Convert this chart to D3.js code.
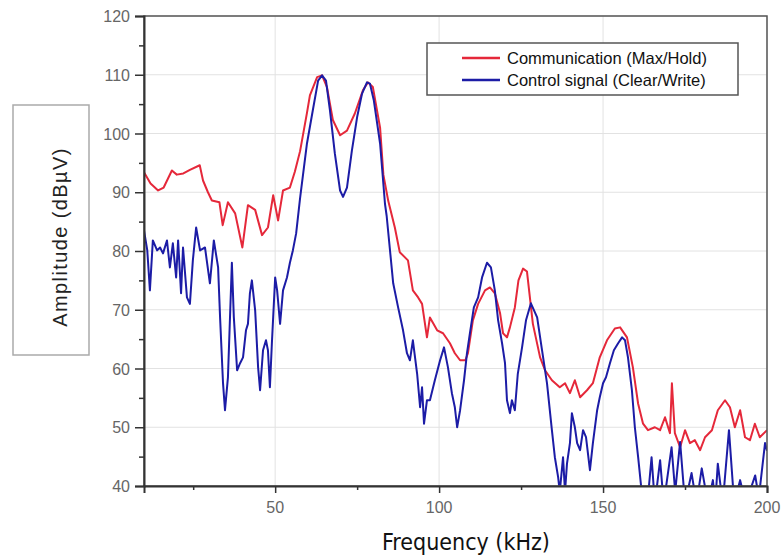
<!DOCTYPE html>
<html>
<head>
<meta charset="utf-8">
<script src="https://cdn.jsdelivr.net/npm/d3@7"></script>
<style>
  html, body { margin: 0; padding: 0; background: #fff; overflow: hidden; }
  svg { display: block; }
  text { font-family: "Liberation Sans", Arial, sans-serif; }
</style>
</head>
<body>
<svg id="chart"></svg>
<script>
// Spectrum data: [frequency kHz, amplitude dBuV]
var commTrace = [
  [10,93.4],[12,91.5],[14.3,90.3],[16,90.8],[18.5,93.7],[20,93],[22,93.2],[24,93.8],[27,94.6],[28,92],
  [29.5,90],[30.7,88.6],[33,88.3],[34,84.4],[35.6,88.3],[37.8,86.4],[40,80.6],[41.7,87.8],[43.9,87],[46,82.7],
  [47.8,84],[49.4,89.5],[50.9,85.2],[52.4,90.3],[54.5,90.8],[56,93.5],[57.6,97],[59.7,103.5],[60.6,106.5],[62.8,109.6],
  [64.3,109.9],[65.8,107.9],[67.6,102.3],[69.8,99.7],[71.9,100.5],[74.3,103.4],[76.8,107.4],[78.3,108.7],[79.8,107.9],[82,101],
  [83,93],[84.5,88.5],[86.5,84],[88,79.8],[90.5,78.4],[92,73.3],[93.6,72.1],[94.8,71],[96.3,65.3],[97.2,68.7],
  [99.4,66.5],[101.2,66],[103.3,64.3],[104.8,62.6],[106.4,61.4],[108,61.4],[108.8,62.6],[110.3,68.2],[111.9,71],[114,73.3],
  [115.5,73.8],[117,72.8],[118.6,69.4],[119.5,66],[120.7,65.3],[121.6,67],[123.1,70.4],[124.2,75],[125.6,77],[126.8,76.5],
  [128.6,67.6],[130.8,61.9],[132.3,59.7],[134.4,58],[136.8,56.8],[138.4,57.5],[139.9,55.8],[141.4,58],[143,55.1],[145.1,56.3],
  [146.9,57.5],[149,61.9],[151.2,64.8],[153.6,66.8],[155.2,67],[157.3,65.3],[159.1,60.2],[160.7,54],[162.2,50.6],[163.7,49.5],
  [165.8,50],[167.4,49.5],[168.9,51.7],[170.4,49],[171,57.5],[171.9,49],[173.5,46.6],[175,49.5],[176.5,47.3],[178,47.8],
  [179.6,46.1],[181.1,48.3],[183.2,49.5],[185,52.9],[187.2,54.6],[188.7,53.4],[190.2,50],[191.8,52.9],[193.3,48.3],[194.8,47.8],
  [196.3,50.6],[197.8,48.3],[200,49.5]
];
var ctrlTrace = [
  [10,83.5],[11,80.1],[11.8,73.3],[12.7,81.8],[14,80.1],[14.9,80.6],[15.8,79.6],[17,81.8],[17.9,77.2],[18.8,81.3],
  [19.8,75.5],[20.4,81.8],[21.3,72.8],[21.9,80.6],[23.1,72.1],[24,71],[24.9,78.4],[25.9,84],[27.1,80.1],[28.6,80.6],
  [30.1,74.5],[31.3,81.8],[32.6,77.2],[33.2,68.7],[34.1,57.5],[34.7,52.9],[35.6,58.5],[36.8,78],[37.4,68.7],[38.4,59.7],
  [39.3,60.9],[40.2,61.9],[41.1,66.5],[41.7,67.6],[42.3,72.8],[42.9,75],[43.9,69.9],[44.8,60.2],[45.4,56.3],[46.3,63.1],
  [47.2,64.8],[47.8,63.1],[48.4,56.8],[49,64.3],[50,75.5],[50.6,73.3],[51.5,67.6],[52.4,73.3],[53.6,75.5],[54.5,78],
  [55.4,80.1],[56.4,83],[57.6,89],[59.7,98.3],[61.5,104],[63.1,109],[64.3,109.9],[65.5,109],[66.7,104],[68.2,96.6],
  [69.8,90.3],[70.7,89.2],[71.9,90.8],[73.4,97.1],[75,102.8],[76.5,106.8],[78,108.7],[78.9,108.5],[80.1,105.6],[82,98.3],
  [83.5,88],[84,86],[86,74.5],[87.5,70.4],[89,66.5],[90.2,62.6],[91.1,61.4],[92,64.8],[93.3,59.1],[94.2,53.4],
  [94.8,56.8],[95.4,50.6],[96.3,54.6],[97.2,54.6],[98.7,58],[100.3,61.4],[101.5,63.6],[102.7,60.2],[103.9,55.8],[104.8,53.4],
  [105.5,50],[106.4,52.9],[107.6,58],[108.5,62.6],[109.4,66],[110.6,70.4],[111.9,72.1],[113.1,75.5],[114.6,78],[115.8,77.2],
  [117,73.3],[118,68.2],[119.2,64.3],[120.1,60.9],[120.7,54.6],[121.6,52.4],[122.2,54.6],[123.1,52.9],[124,59.1],[125.3,63.6],
  [126.5,68.2],[128,71.1],[129.9,68.7],[131.4,63.1],[132.9,57.5],[134.4,49.5],[135.3,44.9],[136.3,41.5],[136.8,39],[137.8,44.9],
  [138.4,39],[139,43.8],[139.9,47.3],[140.5,52.4],[141.4,50],[142.1,47.3],[143,46.1],[143.9,49.5],[144.8,48.3],[146,42.7],
  [146.9,47.3],[148.2,52.9],[149,55.1],[150,57.5],[150.9,58.5],[152.1,60.9],[153.3,63.1],[154.6,64.3],[155.8,65.3],[156.7,64.8],
  [157.6,61.9],[158.8,56.3],[159.7,50],[160.7,44.9],[161.6,40],[162.5,37],[164,40],[164.8,44.9],[165.8,37],[167.4,44.4],
  [168.5,37],[170.9,46.6],[172,39],[173.5,47.5],[175,37],[177,42.2],[178.5,37],[180.1,43],[182,37],[183.5,41],
  [184.2,37],[185,43.8],[186.5,37],[188.4,49.5],[190,37],[191.8,41],[193.5,37],[196.4,41.8],[197.5,38],[199.4,47.3],[200,46]
];
var xTicks = [50, 100, 150, 200];
var xMinorTicks = [25, 75, 125, 175];
var yTicks = [40, 50, 60, 70, 80, 90, 100, 110, 120];
var yMinorTicks = [45, 55, 65, 75, 85, 95, 105, 115];
var seriesNames = ["Communication (Max/Hold)", "Control signal (Clear/Write)"];
var seriesColors = ["#e5283a", "#1c1ca6"];

var width = 783, height = 559;
var margin = {top: 16, right: 16, bottom: 73, left: 144},
    innerWidth = width - margin.left - margin.right,
    innerHeight = height - margin.top - margin.bottom;

var svg = d3.select("#chart").attr("width", width).attr("height", height);

// scales in page coordinates
var xScale = d3.scaleLinear().domain([10, 200]).range([margin.left, margin.left + innerWidth]);
var yScale = d3.scaleLinear().domain([40, 120]).range([margin.top + innerHeight, margin.top]);

// Gridlines
svg.append("g").attr("class", "grid")
  .selectAll("line.gx").data(xTicks).join("line")
  .attr("x1", d => xScale(d)).attr("x2", d => xScale(d))
  .attr("y1", margin.top).attr("y2", margin.top + innerHeight)
  .attr("stroke", "#e2e2e2");
svg.select(".grid")
  .selectAll("line.gy").data(yTicks).join("line")
  .attr("x1", margin.left).attr("x2", margin.left + innerWidth)
  .attr("y1", d => yScale(d)).attr("y2", d => yScale(d))
  .attr("stroke", "#e2e2e2");

// Traces, clipped to the plot area
svg.append("defs").append("clipPath").attr("id", "plot-clip")
  .append("rect")
  .attr("x", margin.left).attr("y", margin.top)
  .attr("width", innerWidth).attr("height", innerHeight);

var line = d3.line()
  .x(d => xScale(d[0]))
  .y(d => yScale(d[1]));

var traces = svg.append("g").attr("clip-path", "url(#plot-clip)");
traces.append("path").datum(commTrace)
  .attr("fill", "none").attr("stroke", seriesColors[0])
  .attr("stroke-width", 2).attr("stroke-linejoin", "round")
  .attr("d", line);
traces.append("path").datum(ctrlTrace)
  .attr("fill", "none").attr("stroke", seriesColors[1])
  .attr("stroke-width", 2).attr("stroke-linejoin", "round")
  .attr("d", line);

// Frame
svg.append("rect")
  .attr("x", margin.left).attr("y", margin.top)
  .attr("width", innerWidth).attr("height", innerHeight)
  .attr("fill", "none").attr("stroke", "#555").attr("stroke-width", 1.5);

// Axis lines and ticks (labels drawn below as plain text)
var xAxis = svg.append("g").attr("class", "x-axis")
  .attr("transform", `translate(0, ${margin.top + innerHeight})`)
  .call(d3.axisBottom(xScale).tickValues(xTicks).tickSize(7).tickFormat(""));
xAxis.append("g").call(d3.axisBottom(xScale).tickValues(xMinorTicks).tickSize(4).tickFormat(""))
  .call(g => g.select(".domain").remove());

var yAxis = svg.append("g").attr("class", "y-axis")
  .attr("transform", `translate(${margin.left}, 0)`)
  .call(d3.axisLeft(yScale).tickValues(yTicks).tickSize(9).tickFormat(""));
yAxis.append("g").call(d3.axisLeft(yScale).tickValues(yMinorTicks).tickSize(5).tickFormat(""))
  .call(g => g.select(".domain").remove());

svg.selectAll(".x-axis text, .y-axis text").remove();
svg.selectAll(".x-axis .domain, .y-axis .domain")
  .attr("stroke", "#333").attr("stroke-width", 2);
svg.selectAll(".x-axis line, .y-axis line")
  .attr("stroke", "#333").attr("stroke-width", 1.5);

// Tick labels
svg.append("g").selectAll("text").data(xTicks).join("text")
  .attr("x", d => xScale(d))
  .attr("y", margin.top + innerHeight + 27)
  .attr("text-anchor", "middle")
  .attr("fill", "#666")
  .style("font-size", "16px")
  .text(d => d);
svg.append("g").selectAll("text").data(yTicks).join("text")
  .attr("x", margin.left - 14)
  .attr("y", d => yScale(d) + 6)
  .attr("text-anchor", "end")
  .attr("fill", "#666")
  .style("font-size", "16px")
  .text(d => d);

// Axis labels
svg.append("text")
  .attr("x", 466).attr("y", 550)
  .attr("text-anchor", "middle")
  .attr("fill", "#111")
  .style("font-family", "'Liberation Sans Narrow', 'DejaVu Sans Condensed', Arial, sans-serif")
  .style("font-size", "23px")
  .text("Frequency (kHz)");

svg.append("rect")
  .attr("x", 13).attr("y", 105).attr("width", 76).attr("height", 250)
  .attr("fill", "#fff").attr("stroke", "#aaa").attr("stroke-width", 1.5);
svg.append("text")
  .attr("transform", "translate(67,237) rotate(-90)")
  .attr("text-anchor", "middle")
  .attr("fill", "#222")
  .style("font-size", "20px")
  .style("letter-spacing", "1.4px")
  .text("Amplitude (dBµV)");

// Legend
var legend = svg.append("g").attr("transform", "translate(427,43)");
legend.append("rect")
  .attr("width", 311).attr("height", 52)
  .attr("fill", "#fff").attr("stroke", "#555").attr("stroke-width", 1.5);
seriesNames.forEach(function(name, i) {
  var row = legend.append("g").attr("transform", `translate(0, ${15 + i * 22})`);
  row.append("line")
    .attr("x1", 35).attr("x2", 73)
    .attr("stroke", seriesColors[i]).attr("stroke-width", 2.5);
  row.append("text")
    .attr("x", 80).attr("y", 6)
    .attr("fill", "#111")
    .style("font-size", "16.5px")
    .text(name);
});
</script>
</body>
</html>
